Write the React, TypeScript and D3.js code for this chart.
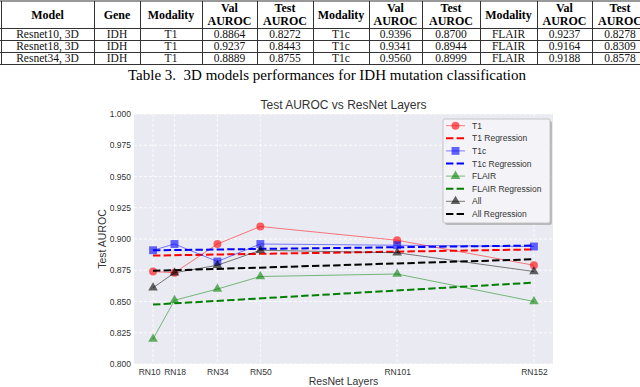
import React, { useEffect, useRef } from "react";
import * as d3 from "d3";

// table 3 values
const tableModels = ["Resnet10, 3D", "Resnet18, 3D", "Resnet34, 3D"];
const tableGenes = ["IDH", "IDH", "IDH"];
const t1Val = ["0.8864", "0.9237", "0.8889"];
const t1Test = ["0.8272", "0.8443", "0.8755"];
const t1cVal = ["0.9396", "0.9341", "0.9560"];
const t1cTest = ["0.8700", "0.8944", "0.8999"];
const flairVal = ["0.9237", "0.9164", "0.9188"];
const flairTest = ["0.8278", "0.8309", "0.8578"];
const caption = "Table 3.  3D models performances for IDH mutation classification";

// chart values
const layers = [10, 18, 34, 50, 101, 152];
const layerLabels = ["RN10", "RN18", "RN34", "RN50", "RN101", "RN152"];
const t1Auroc = [0.874, 0.873, 0.896, 0.91, 0.899, 0.879];
const t1cAuroc = [0.891, 0.896, 0.882, 0.896, 0.895, 0.894];
const flairAuroc = [0.82, 0.851, 0.86, 0.87, 0.872, 0.85];
const allAuroc = [0.861, 0.873, 0.879, 0.891, 0.889, 0.874];
const yTicks = [0.8, 0.825, 0.85, 0.875, 0.9, 0.925, 0.95, 0.975, 1.0];

const series = [
  { name: "T1", values: t1Auroc, color: "#ff0000", marker: "circle" },
  { name: "T1c", values: t1cAuroc, color: "#0000ff", marker: "square" },
  { name: "FLAIR", values: flairAuroc, color: "#008000", marker: "triangle" },
  { name: "All", values: allAuroc, color: "#000000", marker: "triangle" },
];

// least squares fit on the layer numbers
function fit(xs: number[], ys: number[]) {
  const mx = d3.mean(xs) as number;
  const my = d3.mean(ys) as number;
  const sxy = d3.sum(xs, (x, i) => (x - mx) * (ys[i] - my));
  const sxx = d3.sum(xs, (x) => (x - mx) * (x - mx));
  const slope = sxy / sxx;
  return (x: number) => my + slope * (x - mx);
}

const App = () => {
  const svgRef = useRef<SVGSVGElement>(null);

  useEffect(() => {
    document.body.style.margin = "0";
    const svg = d3.select(svgRef.current);
    svg.selectAll("*").remove();

    // ---------- table ----------
    const serif = "'Liberation Serif', 'Times New Roman', serif";
    const colEdges = [1, 94, 140, 202, 257, 313, 369, 422, 480, 537, 592, 648];
    const rowEdges = [1, 28.5, 40.5, 52.5, 64.5];
    const tbl = svg.append("g");
    rowEdges.forEach((y) => {
      tbl.append("line").attr("x1", 0).attr("x2", 640).attr("y1", y).attr("y2", y)
        .attr("stroke", "#333").attr("stroke-width", 1);
    });
    colEdges.forEach((x) => {
      tbl.append("line").attr("x1", x + 0.5).attr("x2", x + 0.5).attr("y1", 1).attr("y2", 64.5)
        .attr("stroke", "#333").attr("stroke-width", 1);
    });
    const headers = [["Model"], ["Gene"], ["Modality"], ["Val", "AUROC"], ["Test", "AUROC"],
      ["Modality"], ["Val", "AUROC"], ["Test", "AUROC"], ["Modality"], ["Val", "AUROC"], ["Test", "AUROC"]];
    headers.forEach((h, i) => {
      const cx = (colEdges[i] + colEdges[i + 1]) / 2;
      h.forEach((line, j) => {
        const y = h.length === 1 ? 19 : 12 + j * 13;
        tbl.append("text").attr("x", cx).attr("y", y).attr("text-anchor", "middle")
          .style("font-family", serif).style("font-weight", "bold").style("font-size", "12px")
          .text(line);
      });
    });
    const columns = [tableModels, tableGenes, ["T1", "T1", "T1"], t1Val, t1Test,
      ["T1c", "T1c", "T1c"], t1cVal, t1cTest, ["FLAIR", "FLAIR", "FLAIR"], flairVal, flairTest];
    columns.forEach((col, i) => {
      const cx = (colEdges[i] + colEdges[i + 1]) / 2;
      col.forEach((v, r) => {
        tbl.append("text").attr("x", cx).attr("y", rowEdges[r + 1] + 9.5).attr("text-anchor", "middle")
          .style("font-family", serif).style("font-size", "11.5px").attr("fill", "#111")
          .text(v);
      });
    });
    svg.append("text").attr("x", 327).attr("y", 80).attr("text-anchor", "middle")
      .style("font-family", serif).style("font-size", "15px").style("white-space", "pre")
      .text(caption);

    // ---------- chart ----------
    const sans = "'Liberation Sans', Arial, sans-serif";
    const left = 134, right = 553, top = 114, bottom = 364;
    const pad = (152 - 10) * 0.05;
    const x = d3.scaleLinear().domain([10 - pad, 152 + pad]).range([left, right]);
    const y = d3.scaleLinear().domain([0.8, 1.0]).range([bottom, top]);

    const g = svg.append("g");
    g.append("rect").attr("x", left).attr("y", top).attr("width", right - left).attr("height", bottom - top)
      .attr("fill", "#eaeaf2");

    // grid
    yTicks.forEach((t) => {
      g.append("line").attr("x1", left).attr("x2", right).attr("y1", y(t)).attr("y2", y(t))
        .attr("stroke", "#fff").attr("stroke-width", 0.8).attr("stroke-dasharray", "3,2");
    });
    layers.forEach((l) => {
      g.append("line").attr("x1", x(l)).attr("x2", x(l)).attr("y1", top).attr("y2", bottom)
        .attr("stroke", "#fff").attr("stroke-width", 0.8).attr("stroke-dasharray", "3,2");
    });

    // axes
    const yAxis = g.append("g").attr("transform", `translate(${left},0)`)
      .call(d3.axisLeft(y).tickValues(yTicks).tickFormat(d3.format(".3f")).tickSize(0).tickPadding(3));
    const xAxis = g.append("g").attr("transform", `translate(0,${bottom})`)
      .call(d3.axisBottom(x).tickValues(layers).tickFormat((d, i) => layerLabels[i]).tickSize(0).tickPadding(5));
    [yAxis, xAxis].forEach((a) => {
      a.select(".domain").remove();
      a.selectAll("text").style("font-family", sans).style("font-size", "8.5px").attr("fill", "#333");
    });
    // first label sits a little left of its tick in the original
    xAxis.selectAll("text").filter((d, i) => i === 0).attr("dx", -4);

    g.append("text").attr("x", (left + right) / 2).attr("y", 385).attr("text-anchor", "middle")
      .style("font-family", sans).style("font-size", "10.5px").attr("fill", "#333").text("ResNet Layers");
    g.append("text").attr("transform", `translate(106,${(top + bottom) / 2}) rotate(-90)`)
      .attr("text-anchor", "middle").style("font-family", sans).style("font-size", "10.5px")
      .attr("fill", "#333").text("Test AUROC");
    g.append("text").attr("x", (left + right) / 2).attr("y", 109).attr("text-anchor", "middle")
      .style("font-family", sans).style("font-size", "12px").attr("fill", "#333")
      .text("Test AUROC vs ResNet Layers");

    const symbolFor = (m: string) =>
      m === "circle" ? d3.symbol(d3.symbolCircle, 50) :
      m === "square" ? d3.symbol(d3.symbolSquare, 62) : d3.symbol(d3.symbolTriangle, 40);

    const line = d3.line<number>().x((d, i) => x(layers[i])).y((d) => y(d));

    series.forEach((s) => {
      g.append("path").attr("d", line(s.values)).attr("fill", "none")
        .attr("stroke", s.color).attr("stroke-opacity", 0.5).attr("stroke-width", 1);
      g.selectAll(null).data(s.values).enter().append("path")
        .attr("d", symbolFor(s.marker))
        .attr("transform", (d, i) => `translate(${x(layers[i])},${y(d)})`)
        .attr("fill", s.color).attr("fill-opacity", 0.6);
      const f = fit(layers, s.values);
      g.append("line").attr("x1", x(10)).attr("x2", x(152)).attr("y1", y(f(10))).attr("y2", y(f(152)))
        .attr("stroke", s.color).attr("stroke-width", 2).attr("stroke-dasharray", "7.4,3.2");
    });

    // legend
    const lx = 443, ly = 119, lw = 107, lh = 104;
    const leg = g.append("g");
    leg.append("rect").attr("x", lx + 2).attr("y", ly + 2).attr("width", lw).attr("height", lh).attr("rx", 2)
      .attr("fill", "#999").attr("fill-opacity", 0.6);
    leg.append("rect").attr("x", lx).attr("y", ly).attr("width", lw).attr("height", lh).attr("rx", 2)
      .attr("fill", "#f4f4f8").attr("stroke", "#bbb").attr("stroke-width", 0.8);
    const entries: { label: string; color: string; marker: string | null }[] = [];
    series.forEach((s) => {
      entries.push({ label: s.name, color: s.color, marker: s.marker });
      entries.push({ label: s.name + " Regression", color: s.color, marker: null });
    });
    entries.forEach((e, i) => {
      const ey = 125.7 + i * 12.6;
      if (e.marker) {
        leg.append("line").attr("x1", 446).attr("x2", 465).attr("y1", ey).attr("y2", ey)
          .attr("stroke", e.color).attr("stroke-opacity", 0.5).attr("stroke-width", 1);
        leg.append("path").attr("d", symbolFor(e.marker)).attr("transform", `translate(455.5,${ey})`)
          .attr("fill", e.color).attr("fill-opacity", 0.6);
      } else {
        leg.append("line").attr("x1", 446).attr("x2", 465).attr("y1", ey).attr("y2", ey)
          .attr("stroke", e.color).attr("stroke-width", 2).attr("stroke-dasharray", "7.4,3.2");
      }
      leg.append("text").attr("x", 472).attr("y", ey + 3).style("font-family", sans)
        .style("font-size", "8.5px").attr("fill", "#333").text(e.label);
    });
  }, []);

  return <svg ref={svgRef} width={640} height={387} style={{ display: "block" }}></svg>;
};

export default App;
